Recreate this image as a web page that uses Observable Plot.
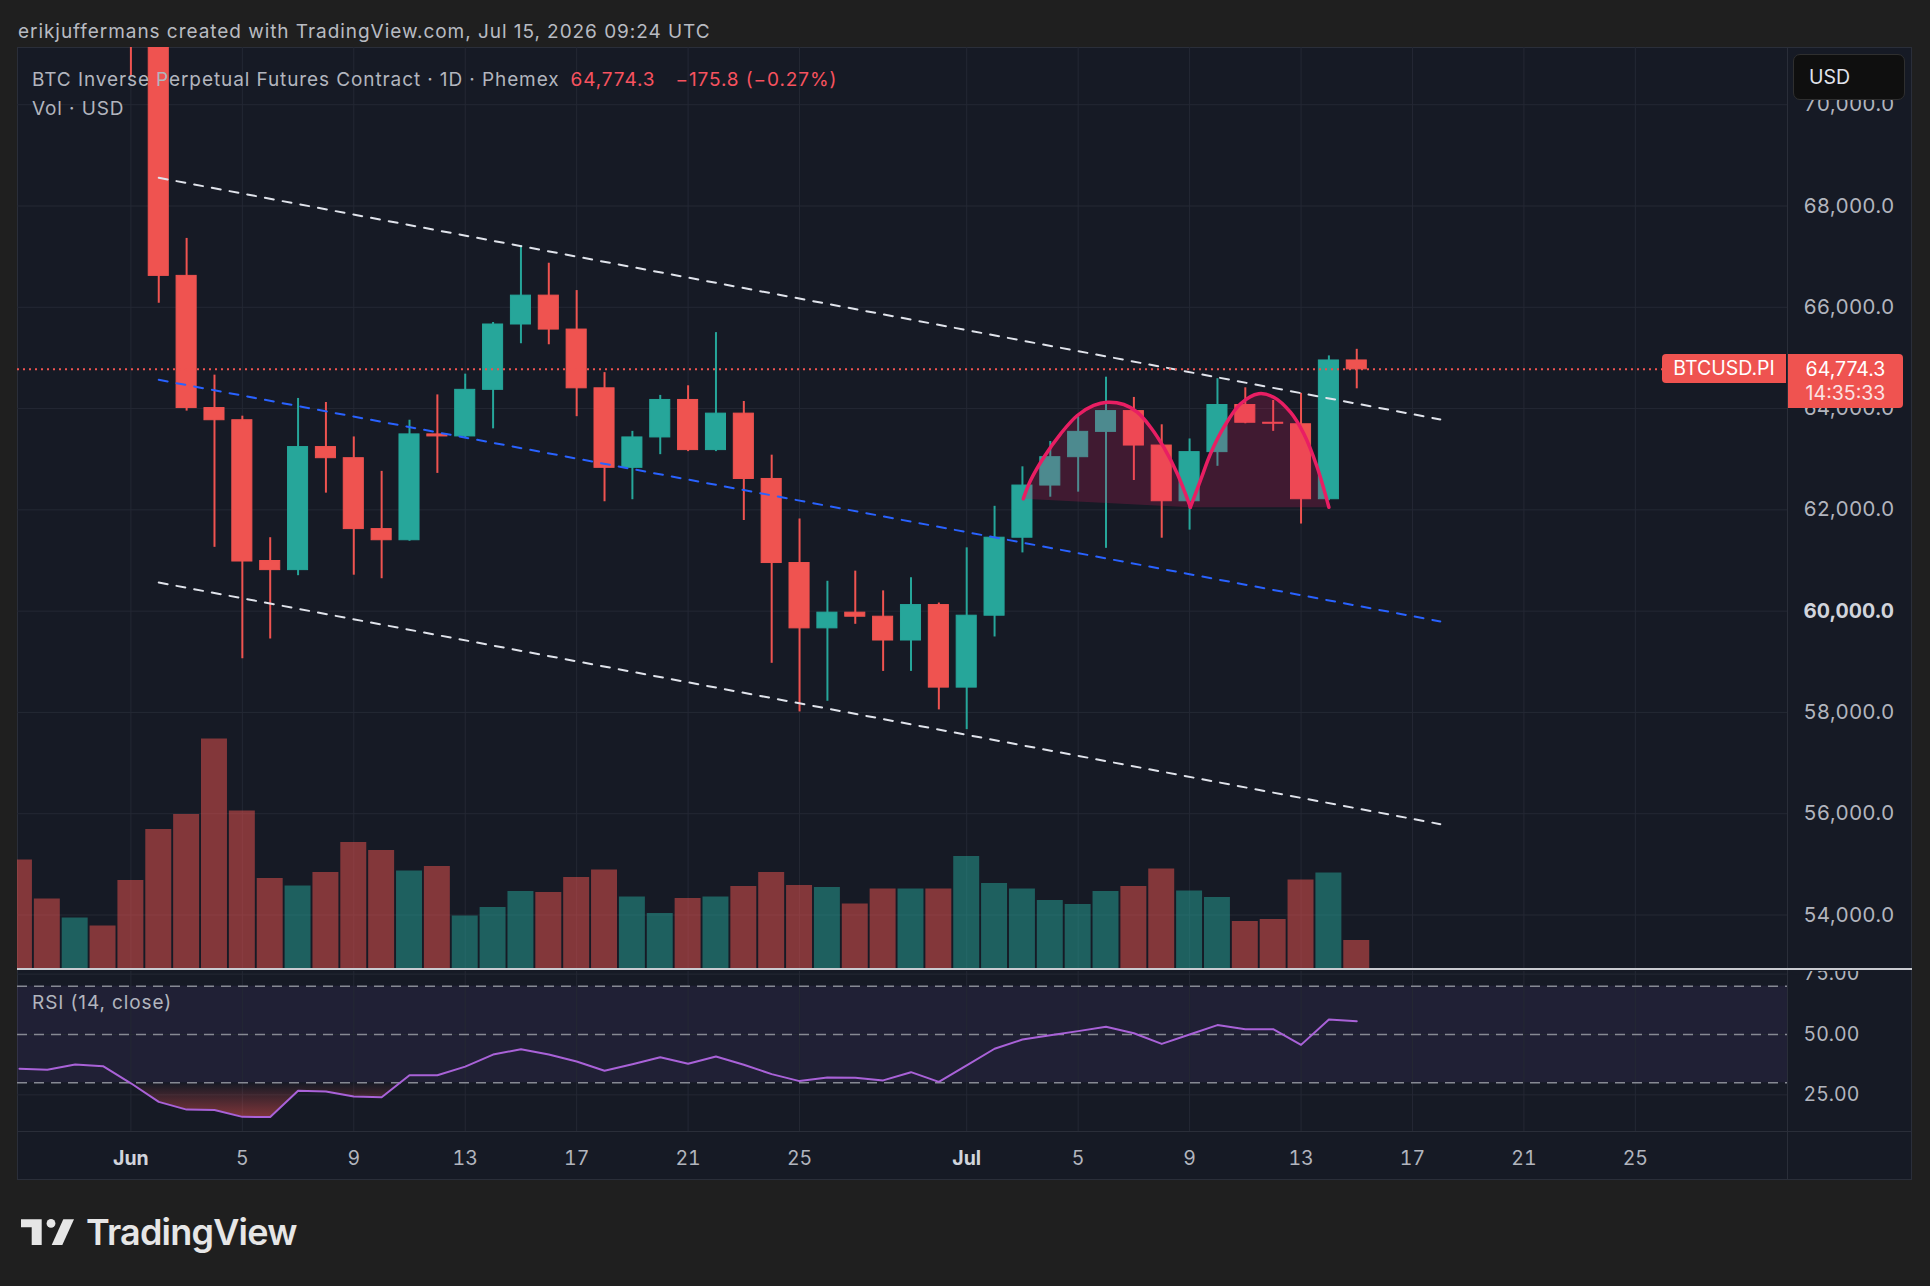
<!DOCTYPE html>
<html>
<head>
<meta charset="utf-8">
<script src="https://cdn.jsdelivr.net/npm/d3@7"></script>
<script src="https://cdn.jsdelivr.net/npm/@observablehq/plot@0.6"></script>
<style>
  html, body { margin: 0; padding: 0; background: #1f1f1f; }
  body { width: 1930px; height: 1286px; position: relative; overflow: hidden;
         font-family: Inter, Roboto, "Noto Sans", sans-serif; color: #b2b5be; }
  .abs { position: absolute; }
  .txt { white-space: nowrap; line-height: 20px; }
  #frame { left: 17px; top: 47px; width: 1895px; height: 1133px; background: #161a25;
           box-sizing: border-box; border: 1px solid #2a2e39; }
  #credit { left: 18px; top: 22px; font-size: 19px; letter-spacing: 0.95px; color: #b8bbc2; }
  .legend { font-size: 19px; letter-spacing: 0.9px; }
  #legend { left: 32px; top: 70px; }
  #legend .chg { color: #f7525f; }
  #volLegend { left: 32px; top: 99px; }
  #rsiLegend { left: 32px; top: 993px; }
  #usd { left: 1793px; top: 54px; width: 112px; height: 46px; box-sizing: border-box;
         background: #0f0f0f; border: 1px solid #2f2f2f; border-radius: 7px;
         font-size: 19.5px; color: #e0e3eb; padding-left: 15px; line-height: 44px; }
  .tag { background: #ef5350; color: #ffffff; font-size: 19.5px; box-sizing: border-box; }
  #symTag { left: 1662px; width: 124px; height: 29px; line-height: 29px; text-align: center; border-radius: 4px 0 0 4px; }
  #priceTag { left: 1788px; width: 115px; height: 54px; padding-top: 3px; text-align: center; line-height: 24px; border-radius: 0 4px 4px 0; }
  #priceTag .cd { color: #fbe3e4; }
  .sep { background: #2a2e39; }
  #paneSep { left: 17px; top: 968px; width: 1895px; height: 2px; background: #c9cbd1; }
  #brand { left: 86px; top: 1212px; font-size: 36px; font-weight: 600; color: #e6e6e6; letter-spacing: -0.8px; line-height: 40px; }
</style>
</head>
<body>
<div id="credit" class="abs txt">erikjuffermans created with TradingView.com, Jul 15, 2026 09:24 UTC</div>
<div id="frame" class="abs"></div>
<div id="pricePane" class="abs" style="left:17px; top:47px; width:1895px; height:921px;"></div>
<div id="volPane" class="abs" style="left:17px; top:47px; width:1895px; height:921px;"></div>
<div id="rsiPane" class="abs" style="left:17px; top:971px; width:1895px; height:209px;"></div>
<div class="abs sep" style="left:1787px; top:47px; width:1px; height:1133px;"></div>
<div class="abs sep" style="left:17px; top:1131px; width:1895px; height:1px;"></div>
<div id="paneSep" class="abs"></div>
<div id="legend" class="abs txt legend"></div>
<div id="volLegend" class="abs txt legend">Vol · USD</div>
<div id="rsiLegend" class="abs txt legend">RSI (14, close)</div>
<div id="usd" class="abs">USD</div>
<div id="symTag" class="abs tag">BTCUSD.PI</div>
<div id="priceTag" class="abs tag"></div>
<svg class="abs" style="left:0; top:1200px;" width="90" height="60" viewBox="0 1200 90 60">
  <path d="M21 1219.3 H41.7 V1245 H31.7 V1227.3 H21 Z" fill="#e6e6e6"/>
  <circle cx="51" cy="1223.4" r="4.4" fill="#e6e6e6"/>
  <path d="M63.3 1219.3 H74 L62.3 1245 H51.7 Z" fill="#e6e6e6"/>
</svg>
<div id="brand" class="abs txt">TradingView</div>

<script>
// ---------- data ----------
const DAY = 864e5;
const candleStart = "2026-06-01";          // first daily candle
const candleOpen  = [73800, 71700, 66620, 64010, 63770, 60990, 60810, 63240, 63020, 61620, 61400, 63490, 63450, 64370, 65660, 66230, 65560, 64400, 62830, 63430, 64170, 63180, 63900, 62610, 60950, 59660, 59970, 59890, 59420, 60120, 58490, 59910, 61450, 62480, 63040, 63540, 63950, 63270, 62170, 63140, 64070, 63720, 63690, 62210, 64950.1];
const candleHigh  = [74400, 72000, 67360, 64660, 63850, 61450, 64200, 64120, 63440, 62760, 63770, 64270, 64680, 65700, 67220, 66870, 66330, 64710, 63550, 64260, 64450, 65500, 64140, 63080, 61820, 60590, 60790, 60400, 60660, 60160, 61250, 62070, 62850, 63350, 63840, 64620, 64220, 63680, 63400, 64590, 64410, 64160, 64300, 65040, 65170];
const candleLow   = [70560, 66080, 63950, 61260, 59060, 59450, 60700, 62330, 60710, 60640, 61380, 62720, 63410, 63600, 65280, 65260, 63840, 62160, 62200, 63090, 63150, 63150, 61790, 58970, 58010, 58220, 59740, 58810, 58810, 58050, 57660, 59490, 61150, 62250, 62350, 61240, 62580, 61440, 61600, 62860, 63700, 63550, 61720, 62180, 64390];
const candleClose = [71700, 66620, 64010, 63770, 60980, 60810, 63240, 63020, 61620, 61400, 63490, 63450, 64370, 65660, 66230, 65560, 64400, 62830, 63430, 64170, 63180, 63900, 62610, 60950, 59660, 59970, 59890, 59420, 60120, 58490, 59910, 61450, 62480, 63040, 63540, 63950, 63270, 62170, 63140, 64070, 63720, 63700, 62210, 64950.1, 64774.3];

const seriesStart = "2026-05-28";          // first volume / RSI bar
const volume = [217, 139, 101, 85, 176, 278, 308, 459, 315, 180, 165, 192, 252, 236, 195, 204, 105, 122, 154, 152, 182, 197, 143, 110, 140, 143, 164, 192, 166, 162, 129, 159, 159, 159, 224, 170, 159, 136, 128, 154, 164, 199, 155, 142, 94, 98, 177, 191, 56];
const earlyVolumeUp = [false, false, true, false];   // bars before the first candle in view
const rsi = [35.8, 35.4, 37.6, 36.9, 29.8, 22.1, 18.9, 18.7, 15.9, 15.8, 26.7, 26.4, 24.3, 24.0, 33.1, 33.1, 36.7, 41.7, 43.9, 41.7, 38.8, 35.0, 37.7, 40.6, 37.9, 40.9, 37.5, 33.6, 30.7, 32.2, 32.1, 31.0, 34.4, 30.4, 37.2, 44.1, 47.9, 49.7, 51.4, 53.2, 50.5, 46.1, 50.0, 53.9, 52.2, 52.2, 45.7, 56.2, 55.5];

// descending channel, drawn from Jun 2 to Jul 18
const channelDates = ["2026-06-02", "2026-07-18"];
const channelUpper = [68557, 63786];
const channelMiddle = [64568, 59797];
const channelLower = [60565, 55794];

// double-top arcs (x in days after Jun 1)
const arc1Days  = [32.03, 32.29, 32.77, 33.37, 33.97, 34.56, 35.04, 35.64, 36.12, 36.60, 37.07, 37.56, 38.03];
const arc1Price = [62218, 62580, 63040, 63502, 63863, 64061, 64126, 64080, 63928, 63632, 63237, 62712, 62052];
const arc2Days  = [38.03, 38.39, 38.75, 39.23, 39.83, 40.48, 41.02, 41.62, 42.10, 42.58, 43.00];
const arc2Price = [62052, 62580, 63107, 63632, 64094, 64292, 64224, 63928, 63502, 62842, 62052];

const timeTicks  = ["2026-06-01", "2026-06-05", "2026-06-09", "2026-06-13", "2026-06-17", "2026-06-21", "2026-06-25",
                    "2026-07-01", "2026-07-05", "2026-07-09", "2026-07-13", "2026-07-17", "2026-07-21", "2026-07-25"];
const priceTicks = [54000, 56000, 58000, 60000, 62000, 64000, 66000, 68000, 70000];
const rsiTicks   = [25, 50, 75];
const rsiBands   = [30, 50, 70];

// ---------- tables ----------
const UP = "#26a69a", DOWN = "#ef5350", GRID = "#242834";
const FONT = "Inter, Roboto, 'Noto Sans', sans-serif";
const t0 = new Date(candleStart).getTime();
const s0 = new Date(seriesStart).getTime();
const atDay = (base, d) => new Date(base + d * DAY);

const candles = candleOpen.map((open, i) => ({
  date: atDay(t0, i), open, high: candleHigh[i], low: candleLow[i], close: candleClose[i],
  color: candleClose[i] >= open ? UP : DOWN
}));
const volumes = volume.map((v, i) => {
  const date = atDay(s0, i);
  const c = candles.find(k => +k.date === +date);
  const up = c ? c.close >= c.open : earlyVolumeUp[i];
  return {date, volume: v, color: up ? UP : DOWN};
});
const rsiData = rsi.map((r, i) => ({date: atDay(s0, i), rsi: r}));
const trend = vals => vals.map((p, i) => ({date: new Date(channelDates[i]), price: p}));
const arc = (days, prices) => days.map((d, i) => ({date: atDay(t0, d), price: prices[i]}));
const arc1 = arc(arc1Days, arc1Price), arc2 = arc(arc2Days, arc2Price);
const tickDates = timeTicks.map(d => new Date(d));
const monthTicks = tickDates.filter(d => d.getUTCDate() === 1);
const dayTicks = tickDates.filter(d => d.getUTCDate() !== 1);

const last = candles[candles.length - 1];
const prevClose = candles[candles.length - 2].close;
const change = last.close - prevClose;
const fmtPrice = d3.format(",.1f");
const minus = s => s.replace("-", "\u2212");

// shared horizontal layout: 27.86 px per day, Jun 1 at 113.4 px into the pane
const xDomain = [atDay(t0, -4.0704), atDay(t0, 59.461)];
const paneW = 1895, axisW = 125;
const bodyHalf = 0.36 * DAY, volHalf = 0.466 * DAY;

// ---------- price pane ----------
const pricePlot = Plot.plot({
  width: paneW, height: 921,
  marginLeft: 0, marginRight: axisW, marginTop: 0, marginBottom: 0,
  style: {background: "transparent", color: "#b2b5be", fontFamily: FONT, fontSize: "20.5px", overflow: "hidden"},
  x: {type: "utc", domain: xDomain, axis: null},
  y: {domain: [52943.6, 71129.8], axis: null},
  marks: [
    Plot.gridX(tickDates, {stroke: GRID, strokeOpacity: 1}),
    Plot.gridY(priceTicks, {stroke: GRID, strokeOpacity: 1}),
    Plot.axisY(priceTicks.filter(t => t !== 60000), {anchor: "right", tickSize: 0, tickPadding: 16, tickFormat: fmtPrice, label: null}),
    Plot.axisY([60000], {anchor: "right", tickSize: 0, tickPadding: 16, tickFormat: fmtPrice, fontWeight: "bold", fill: "#d1d4dc", label: null}),
    Plot.ruleX(candles, {x: "date", y1: "low", y2: "high", stroke: "color", strokeWidth: 2, clip: true}),
    Plot.rect(candles, {x1: d => new Date(+d.date - bodyHalf), x2: d => new Date(+d.date + bodyHalf),
                        y1: "open", y2: "close", fill: "color", stroke: "color", strokeWidth: 1, clip: true}),
    Plot.line(trend(channelUpper), {x: "date", y: "price", stroke: "#e0e3eb", strokeWidth: 2, strokeDasharray: "9,9"}),
    Plot.line(trend(channelMiddle), {x: "date", y: "price", stroke: "#2962ff", strokeWidth: 2, strokeDasharray: "9,9"}),
    Plot.line(trend(channelLower), {x: "date", y: "price", stroke: "#e0e3eb", strokeWidth: 2, strokeDasharray: "9,9"}),
    Plot.line(arc1, {x: "date", y: "price", curve: "catmull-rom", fill: "rgba(233,30,99,0.2)", stroke: "none"}),
    Plot.line(arc2, {x: "date", y: "price", curve: "catmull-rom", fill: "rgba(233,30,99,0.2)", stroke: "none"}),
    Plot.line(arc1, {x: "date", y: "price", curve: "catmull-rom", stroke: "#e91e63", strokeWidth: 3.5}),
    Plot.line(arc2, {x: "date", y: "price", curve: "catmull-rom", stroke: "#e91e63", strokeWidth: 3.5}),
    Plot.ruleY([last.close], {stroke: DOWN, strokeWidth: 2, strokeDasharray: "2,4"})
  ]
});
document.getElementById("pricePane").appendChild(pricePlot);

// ---------- volume (overlay on the price pane) ----------
const volPlot = Plot.plot({
  width: paneW, height: 921,
  marginLeft: 0, marginRight: axisW, marginTop: 0, marginBottom: 0,
  style: {background: "transparent", overflow: "hidden"},
  x: {type: "utc", domain: xDomain, axis: null},
  y: {domain: [0, 1842], axis: null},
  marks: [
    Plot.rect(volumes, {x1: d => new Date(+d.date - volHalf), x2: d => new Date(+d.date + volHalf),
                        y1: 0, y2: "volume", fill: "color", fillOpacity: 0.5, clip: true})
  ]
});
document.getElementById("volPane").appendChild(volPlot);

// ---------- RSI pane + time axis ----------
const rsiPlot = Plot.plot({
  width: paneW, height: 209,
  marginLeft: 0, marginRight: axisW, marginTop: 0, marginBottom: 49,
  style: {background: "transparent", color: "#b2b5be", fontFamily: FONT, fontSize: "19.5px", overflow: "hidden"},
  x: {type: "utc", domain: xDomain, axis: null},
  y: {domain: [9.834, 76.087], axis: null},
  marks: [
    Plot.rect([{x1: xDomain[0], x2: xDomain[1], y1: 30, y2: 70}], {x1: "x1", x2: "x2", y1: "y1", y2: "y2", fill: "#7e57c2", fillOpacity: 0.1}),
    Plot.gridX(tickDates, {stroke: GRID, strokeOpacity: 1}),
    Plot.gridY(rsiTicks, {stroke: GRID, strokeOpacity: 1}),
    Plot.ruleY(rsiBands, {stroke: "#868993", strokeWidth: 1.6, strokeDasharray: "10,7"}),
    Plot.areaY(rsiData, {x: "date", y1: 30, y2: "rsi", fill: "url(#oversoldFade)"}),
    Plot.line(rsiData, {x: "date", y: "rsi", stroke: "#a962d8", strokeWidth: 2}),
    Plot.axisY(rsiTicks, {anchor: "right", tickSize: 0, tickPadding: 16, tickFormat: d3.format(".2f"), label: null}),
    Plot.axisX(dayTicks, {anchor: "bottom", tickSize: 0, tickPadding: 20, tickFormat: d => String(d.getUTCDate()), label: null}),
    Plot.axisX(monthTicks, {anchor: "bottom", tickSize: 0, tickPadding: 20, tickFormat: d3.utcFormat("%b"), fontWeight: "bold", fill: "#d1d4dc", label: null})
  ]
});
document.getElementById("rsiPane").appendChild(rsiPlot);

// oversold gradient, kept below the 30 band
{
  const svg = d3.select(rsiPlot);
  const y = rsiPlot.scale("y");
  const defs = svg.insert("defs", ":first-child");
  const g = defs.append("linearGradient").attr("id", "oversoldFade").attr("gradientUnits", "userSpaceOnUse")
    .attr("x1", 0).attr("x2", 0).attr("y1", y.apply(30)).attr("y2", y.apply(0));
  g.append("stop").attr("offset", 0).attr("stop-color", DOWN).attr("stop-opacity", 0);
  g.append("stop").attr("offset", 1).attr("stop-color", DOWN).attr("stop-opacity", 1);
  defs.append("clipPath").attr("id", "belowOversold").append("rect")
    .attr("x", 0).attr("width", paneW - axisW).attr("y", y.apply(30)).attr("height", 200);
  svg.selectAll('[fill="url(#oversoldFade)"]').attr("clip-path", "url(#belowOversold)");
}

// ---------- legend and last-price tags ----------
document.getElementById("legend").innerHTML =
  `BTC Inverse Perpetual Futures Contract · 1D · Phemex` +
  `<span class="chg" style="margin-left:11px">${fmtPrice(last.close)}</span>` +
  `<span class="chg" style="margin-left:20px">${minus(d3.format(".1f")(change))} (${minus(d3.format(".2f")(change / prevClose * 100))}%)</span>`;

const lastY = 47 + pricePlot.scale("y").apply(last.close);
const symTag = document.getElementById("symTag");
symTag.style.top = (lastY - 14.5) + "px";
const priceTag = document.getElementById("priceTag");
priceTag.style.top = (lastY - 14.5) + "px";
priceTag.innerHTML = `<div>${fmtPrice(last.close)}</div><div class="cd">14:35:33</div>`;
</script>
</body>
</html>
